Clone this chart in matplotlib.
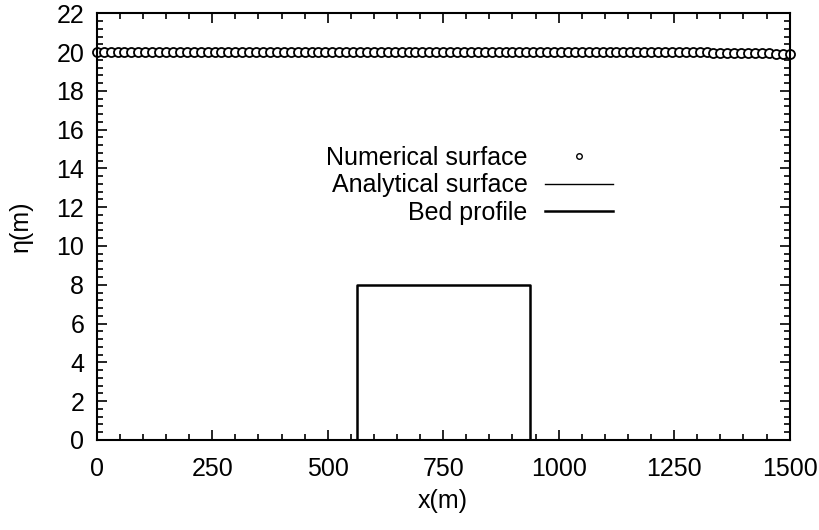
import matplotlib
matplotlib.use("Agg")
import matplotlib.pyplot as plt
from matplotlib.ticker import MultipleLocator
from matplotlib.lines import Line2D

plt.rcParams['font.family'] = ['Liberation Sans', 'DejaVu Sans']

# Numerical surface samples (x in m, eta in m)
x_num = [0, 15, 30, 45, 60, 75, 90, 105, 120, 135, 150, 165, 180, 195, 210, 225, 240, 255, 270, 285,
         300, 315, 330, 345, 360, 375, 390, 405, 420, 435, 450, 465, 480, 495, 510, 525, 540, 555, 570, 585,
         600, 615, 630, 645, 660, 675, 690, 705, 720, 735, 750, 765, 780, 795, 810, 825, 840, 855, 870, 885,
         900, 915, 930, 945, 960, 975, 990, 1005, 1020, 1035, 1050, 1065, 1080, 1095, 1110, 1125, 1140, 1155, 1170, 1185,
         1200, 1215, 1230, 1245, 1260, 1275, 1290, 1305, 1320, 1335, 1350, 1365, 1380, 1395, 1410, 1425, 1440, 1455, 1470, 1485,
         1500]
eta_num = [20.0, 20.0, 20.0, 20.0, 20.0, 20.0, 20.0, 20.0, 20.0, 20.0,
           20.0, 20.0, 20.0, 20.0, 20.0, 20.0, 20.0, 20.0, 20.0, 20.0,
           20.0, 20.0, 20.0, 20.0, 20.0, 20.0, 20.0, 20.0, 20.0, 20.0,
           20.0, 20.0, 20.0, 20.0, 20.0, 20.0, 20.0, 20.0, 20.0, 20.0,
           20.0, 20.0, 20.0, 20.0, 20.0, 20.0, 20.0, 20.0, 20.0, 20.0,
           20.0, 20.0, 20.0, 20.0, 20.0, 20.0, 20.0, 20.0, 20.0, 20.0,
           20.0, 20.0, 20.0, 20.0, 20.0, 20.0, 20.0, 20.0, 20.0, 20.0,
           20.0, 20.0, 20.0, 20.0, 20.0, 20.0, 20.0, 20.0, 19.99, 19.99,
           19.99, 19.99, 19.99, 19.99, 19.98, 19.98, 19.98, 19.98, 19.98, 19.97,
           19.97, 19.97, 19.96, 19.96, 19.95, 19.95, 19.94, 19.93, 19.92, 19.91,
           19.90]

# Analytical surface
x_ana = [0, 1500]
eta_ana = [20.0, 20.0]

# Bed profile
x_bed = [0, 562.5, 562.5, 937.5, 937.5, 1500]
z_bed = [0, 0, 8, 8, 0, 0]

xticks = [0, 250, 500, 750, 1000, 1250, 1500]
yticks = [0, 2, 4, 6, 8, 10, 12, 14, 16, 18, 20, 22]

fig = plt.figure(figsize=(8.2, 5.3), dpi=100)
ax = fig.add_axes([0.118, 0.170, 0.845, 0.805])

ax.plot(x_ana, eta_ana, color='black', lw=1.0)
ax.plot(x_num, eta_num, linestyle='none', marker='o', markersize=6.5,
        markerfacecolor='white', markeredgecolor='black', markeredgewidth=1.3,
        clip_on=False)
ax.plot(x_bed, z_bed, color='black', lw=1.8)

ax.set_xlim(0, 1500)
ax.set_ylim(0, 22)
ax.set_xticks(xticks)
ax.set_yticks(yticks)
ax.xaxis.set_minor_locator(MultipleLocator(50))
ax.yaxis.set_minor_locator(MultipleLocator(0.4))
ax.tick_params(which='both', direction='in', top=True, right=True, labelsize=18, width=1.2)
ax.tick_params(which='major', length=7)
ax.tick_params(axis='x', which='major', pad=12)
ax.tick_params(axis='y', which='major', pad=9)
ax.tick_params(which='minor', length=4)
for s in ax.spines.values():
    s.set_linewidth(1.5)

ax.set_xlabel('x(m)', fontsize=18, labelpad=6)
ax.set_ylabel('η(m)', fontsize=18, labelpad=17)

handles = [Line2D([], [], linestyle='none', marker='o', markersize=4,
                  markerfacecolor='white', markeredgecolor='black', markeredgewidth=1.0),
           Line2D([], [], color='black', lw=1.0),
           Line2D([], [], color='black', lw=1.8)]
labels = ['Numerical surface', 'Analytical surface', 'Bed profile']
leg = ax.legend(handles, labels, loc='upper right', bbox_to_anchor=(0.745, 0.69),
                frameon=False, fontsize=18, markerfirst=False, handlelength=2.7,
                handletextpad=0.72, labelspacing=0.15, borderpad=0, borderaxespad=0,
                alignment='right')
for t in leg.get_texts():
    t.set_ha('right')
leg._legend_box.align = 'right'

fig.savefig('out.png', dpi=100)
